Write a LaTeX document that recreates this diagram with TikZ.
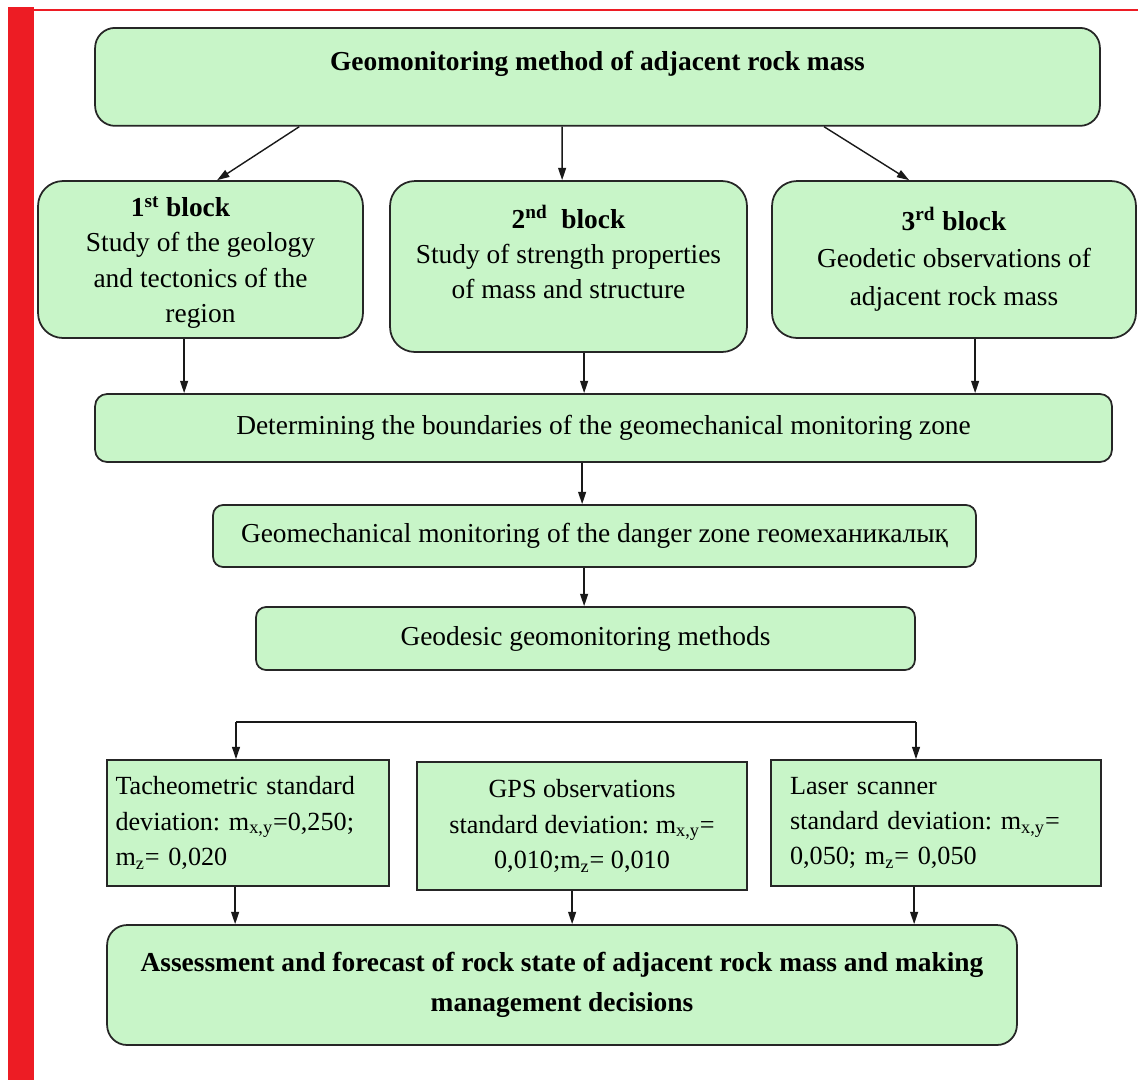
\documentclass[tikz,border=0pt]{standalone}
\usepackage{fontspec}
\setmainfont{Liberation Serif}
\frenchspacing
\usetikzlibrary{positioning, calc, arrows.meta}
\definecolor{blockgruen}{RGB}{200,245,200}
\definecolor{randrot}{RGB}{237,28,36}
\tikzset{kasten/.style={draw=black!85, fill=blockgruen, line width=1pt, align=center,
		inner sep=0pt, font=\fontsize{15.6}{20}\selectfont},
	eckig/.style={kasten, font=\fontsize{14.9}{20}\selectfont},
	fett/.style={font=\fontsize{15.6}{20}\selectfont\bfseries},
	pfeil/.style={-{Triangle[length=7pt,width=4.5pt]}, line width=0.8pt, black!90} }

\begin{document}
\begin{tikzpicture}[x=0.02cm, y=-0.02cm]
  \useasboundingbox (0,0) rectangle (1138,1080);
  % Rand links und oben
  \fill[randrot] (8,7) rectangle (34,1080);
  \draw[randrot, line width=1.4pt] (34,10) -- (1138,10);

  \node (titel) [kasten, fett, rounded corners=0.4cm, anchor=north, minimum width=20.1cm,
  	text height=0.86cm, text depth=1.1cm] at (597.5,27) {Geomonitoring method of adjacent rock mass};

  \node (b1) [kasten, rounded corners=0.5cm, minimum width=6.5cm, minimum height=3.14cm,
  	text depth=0pt] at (200.5,259.5)
  	{\textbf{1\textsuperscript{st} block}\hspace*{0.8cm}\\ Study of the geology\\ and tectonics of the\\ region};
  \node (b2) [kasten, rounded corners=0.5cm, minimum width=7.14cm, minimum height=3.42cm,
  	text depth=0.58cm] at (568.5,266.5)
  	{\textbf{2\textsuperscript{nd}\ \ block}\\ Study of strength properties\\ of mass and structure};
  \node (b3) [kasten, rounded corners=0.5cm, minimum width=7.28cm, minimum height=3.14cm] at (954,259.5)
  	{\textbf{3\textsuperscript{rd} block}\\[1.5pt] Geodetic observations of\\[1.5pt] adjacent rock mass};

  \node (grenze) [kasten, rounded corners=0.24cm, minimum width=20.34cm, minimum height=1.36cm] at (603.5,428)
  	{Determining the boundaries of the geomechanical monitoring zone};
  \node (gefahr) [kasten, rounded corners=0.2cm, minimum width=15.26cm, minimum height=1.24cm] at (594.5,536)
  	{Geomechanical monitoring of the danger zone геомеханикалық};
  \node (geod) [kasten, rounded corners=0.2cm, minimum width=13.18cm, minimum height=1.26cm] at (585.5,638.5)
  	{Geodesic geomonitoring methods};

  \node (tach) [eckig, align=left, text width=5.3cm, inner xsep=0.17cm, minimum height=2.52cm] at (248,823)
  	{Tacheometric standard\\ deviation: m\textsubscript{x,y}=0,250;\\ m\textsubscript{z}= 0,020};
  \node (gps) [eckig, minimum width=6.6cm, minimum height=2.56cm] at (582,826)
  	{GPS observations\\ standard deviation: m\textsubscript{x,y}=\\ 0,010;m\textsubscript{z}= 0,010};
  \node (laser) [eckig, align=left, text width=5.84cm, inner xsep=0.38cm, minimum height=2.52cm] at (936,823)
  	{Laser scanner\\ standard deviation: m\textsubscript{x,y}=\\ 0,050; m\textsubscript{z}= 0,050};

  \node (bewertung) [kasten, fett, rounded corners=0.4cm, minimum width=18.2cm, minimum height=2.4cm] at (562,985)
  	{Assessment and forecast of rock state of adjacent rock mass and making\\[3pt] management decisions};

  % Pfeile
  \draw[pfeil] ([xshift=4.1cm]titel.south west) -- ([xshift=3.6cm]b1.north west);
  \draw[pfeil] ([xshift=9.36cm]titel.south west) -- ([xshift=3.46cm]b2.north west);
  \draw[pfeil] ([xshift=14.6cm]titel.south west) -- ([xshift=2.76cm]b3.north west);

  \draw[pfeil] ([xshift=2.94cm]b1.south west) coordinate (h1) -- (h1 |- grenze.north);
  \draw[pfeil] ([xshift=3.9cm]b2.south west) coordinate (h2) -- (h2 |- grenze.north);
  \draw[pfeil] ([xshift=4.08cm]b3.south west) coordinate (h3) -- (h3 |- grenze.north);
  \draw[pfeil] ([xshift=9.76cm]grenze.south west) coordinate (h4) -- (h4 |- gefahr.north);
  \draw[pfeil] ([xshift=7.44cm]gefahr.south west) coordinate (h5) -- (h5 |- geod.north);

  \coordinate (vl) at (236,722);
  \coordinate (vr) at (916,722);
  \draw[line width=0.8pt, black!90] (vl) -- (vr);
  \draw[pfeil] (vl) -- (vl |- tach.north);
  \draw[pfeil] (vr) -- (vr |- laser.north);

  \draw[pfeil] ([xshift=2.58cm]tach.south west) coordinate (h6) -- (h6 |- bewertung.north);
  \draw[pfeil] ([xshift=3.12cm]gps.south west) coordinate (h7) -- (h7 |- bewertung.north);
  \draw[pfeil] ([xshift=2.88cm]laser.south west) coordinate (h8) -- (h8 |- bewertung.north);
\end{tikzpicture}
\end{document}
